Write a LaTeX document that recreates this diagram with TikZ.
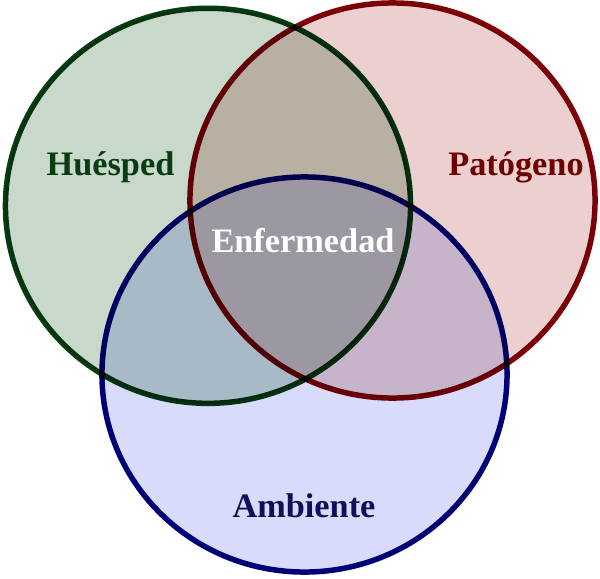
\documentclass[tikz,border=0pt]{standalone}
\usepackage{fontspec}
\setmainfont{Liberation Serif}
\usepackage{xcolor}
\definecolor{hostline}{RGB}{8,60,18}
\definecolor{hostfill}{RGB}{200,216,203}
\definecolor{pathline}{RGB}{128,0,8}
\definecolor{pathfill}{RGB}{236,208,207}
\definecolor{envline}{RGB}{0,0,120}
\definecolor{envfill}{RGB}{216,220,250}
\definecolor{pathtext}{RGB}{110,0,0}
\definecolor{envtext}{RGB}{16,16,90}
\usepackage{tikz}
\usetikzlibrary{shapes.geometric}

\begin{document}
\begin{tikzpicture}[
  x=0.025cm, y=-0.025cm,
  setshape/.style={ellipse, minimum width=10.125cm, minimum height=9.875cm,
              inner sep=0pt, line width=3.9pt},
  setlabel/.style={anchor=base, inner sep=0pt,
              font=\fontsize{24.4}{30}\selectfont\bfseries}
]
\useasboundingbox (0,0) rectangle (600,579);

%% the three sets
\begin{scope}[blend mode=multiply]
\node[setshape, draw=hostline, fill=hostfill] (host) at (208,205.8) {};
\node[setshape, draw=pathline, fill=pathfill] (pathogen) at (392.5,200.5) {};
\node[setshape, draw=envline, fill=envfill] (env) at (304.5,374.5) {};
\end{scope}

%% labels
\node[setlabel, text=hostline] (hostlabel) at (110.5,175) {Huésped};
\node[setlabel, text=pathtext] (pathlabel) at (516,175) {Patógeno};
\node[setlabel, text=white] (disease) at (303,252) {Enfermedad};
\node[setlabel, text=envtext] (envlabel) at (304,517) {Ambiente};

\end{tikzpicture}
\end{document}
